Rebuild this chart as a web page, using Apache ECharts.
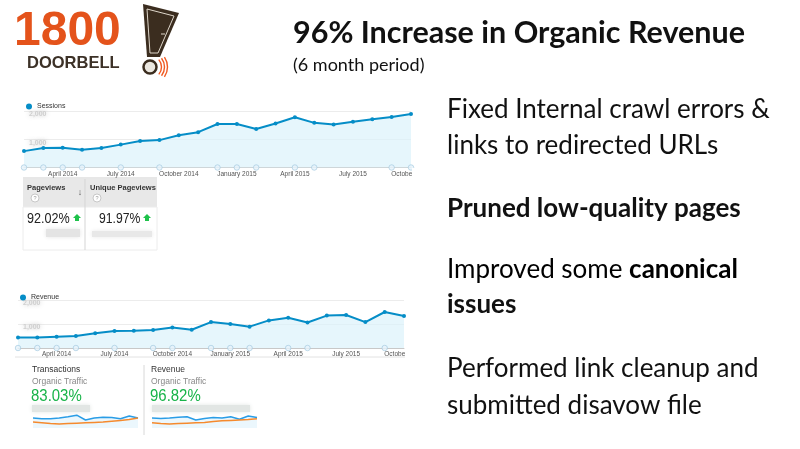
<!DOCTYPE html>
<html>
<head>
<meta charset="utf-8">
<script src="https://cdn.jsdelivr.net/npm/echarts@6/dist/echarts.min.js"></script>
<style>
  html, body { margin: 0; padding: 0; background: #fff; }
  #chart { width: 800px; height: 449px; }
</style>
</head>
<body>
<div id="chart"></div>
<script>
// months shown on both GA charts (Feb 2014 .. Oct 2015)
const months = [
  "February 2014", "March 2014", "April 2014", "May 2014", "June 2014", "July 2014",
  "August 2014", "September 2014", "October 2014", "November 2014", "December 2014",
  "January 2015", "February 2015", "March 2015", "April 2015", "May 2015", "June 2015",
  "July 2015", "August 2015", "September 2015", "October 2015"
];
const labelMonths = ["January", "April", "July", "October"];

const sessions = [580, 690, 700, 630, 690, 810, 940, 970, 1140, 1250, 1540,
  1540, 1360, 1560, 1780, 1580, 1520, 1620, 1710, 1790, 1890];
const revenue = [440, 440, 470, 500, 610, 710, 720, 750, 850, 760, 1080,
  1000, 890, 1150, 1260, 1060, 1350, 1375, 1080, 1500, 1330];

// annotation markers on the x axis (month index)
const sessionNotes = [0, 1, 2, 3, 5, 7, 10, 11, 12, 14, 15, 19, 20];
const revenueNotes = [0, 1, 2, 3, 5, 7, 8, 10, 11, 12, 14, 15, 19];

// sparklines under Transactions / Revenue
const sparkX = ["1", "2", "3", "4", "5", "6", "7", "8", "9", "10", "11", "12", "13"];
const transThis = [25, 23, 23, 25, 28, 32, 20, 25, 27, 26, 23, 30, 25];
const transPrev = [15, 13, 11, 10, 11, 12, 13, 14, 15, 17, 19, 21, 25];
const revThis = [25, 24, 25, 27, 28, 20, 24, 26, 25, 28, 22, 30, 26];
const revPrev = [13, 11, 10, 11, 12, 13, 14, 16, 18, 19, 20, 21, 23];

const blue = "#058dc7";
const gaFont = "Liberation Sans, Arial, sans-serif";
const slideFont = "Lato, sans-serif";

const chart = echarts.init(document.getElementById("chart"));

// 主图x轴
function monthAxis(gridIndex) {
  return {
    type: "category",
    gridIndex: gridIndex,
    data: months,
    boundaryGap: false,
    axisLine: { lineStyle: { color: "#c8c8c8", width: 1 } },
    axisTick: { show: false },
    axisLabel: {
      interval: (i, v) => labelMonths.indexOf(v.split(" ")[0]) >= 0,
      fontSize: 6.5,
      color: "#555",
      fontFamily: gaFont,
      margin: 3
    }
  };
}

// 数值轴，标签模糊处理
function valueAxis(gridIndex) {
  return {
    type: "value",
    gridIndex: gridIndex,
    min: 0,
    max: 2000,
    interval: 1000,
    splitLine: { lineStyle: { color: "#ececec" } },
    axisLine: { show: false },
    axisTick: { show: false },
    axisLabel: {
      inside: true,
      verticalAlign: "top",
      margin: 5,
      fontSize: 7,
      fontWeight: "bold",
      color: "#cfcfcf",
      textShadowColor: "#bdbdbd",
      textShadowBlur: 5,
      formatter: v => (v === 0 ? "" : v.toLocaleString("en-US"))
    }
  };
}

function mainLine(name, data, idx) {
  return {
    name: name,
    type: "line",
    xAxisIndex: idx,
    yAxisIndex: idx,
    data: data,
    symbol: "circle",
    symbolSize: 4,
    lineStyle: { color: blue, width: 2 },
    itemStyle: { color: blue },
    areaStyle: { color: "#dbf2fb" },
    z: 3
  };
}

function notes(list, idx) {
  return {
    type: "scatter",
    xAxisIndex: idx,
    yAxisIndex: idx,
    data: list.map(i => [i, 0]),
    symbol: "circle",
    symbolSize: 5.5,
    itemStyle: { color: "#e6f3fa", borderColor: "#9fc6de", borderWidth: 0.8 },
    z: 4,
    silent: true
  };
}

function spark(data, idx, color, area) {
  const s = {
    type: "line",
    xAxisIndex: idx,
    yAxisIndex: idx,
    data: data,
    showSymbol: false,
    lineStyle: { color: color, width: 1.5 }
  };
  if (area) s.areaStyle = { color: "#e2f3fc" };
  return s;
}

function sparkAxes(idx) {
  return {
    x: { type: "category", gridIndex: idx, data: sparkX, boundaryGap: false, show: false },
    y: { type: "value", gridIndex: idx, min: 0, max: 35, show: false }
  };
}

const sp2 = sparkAxes(2);
const sp3 = sparkAxes(3);

const txt = (x, y, text, size, extra, sx) => ({
  type: "text",
  x: x,
  y: y,
  scaleX: sx || 1,
  style: Object.assign({
    text: text,
    fontSize: size,
    fontFamily: slideFont,
    fill: "#111",
    verticalAlign: "middle"
  }, extra || {})
});

const gaTxt = (x, y, text, size, extra, sx) =>
  txt(x, y, text, size, Object.assign({ fontFamily: gaFont, fill: "#333" }, extra || {}), sx);

const blurBox = (x, y, w, h, color) => ({
  type: "rect",
  shape: { x: x, y: y, width: w, height: h },
  style: { fill: color || "#e6e6e6", shadowBlur: 4, shadowColor: color || "#e0e0e0" }
});

const upArrow = (x, y) => ({
  type: "polygon",
  shape: { points: [[x, y - 4], [x + 4, y], [x + 2, y], [x + 2, y + 3], [x - 2, y + 3], [x - 2, y], [x - 4, y]] },
  style: { fill: "#1ec24b" }
});

const graphics = [
  // logo
  txt(14, 32, "1800", 48, { fontFamily: gaFont, fontWeight: "bold", fill: "#e4531b" }),
  txt(27, 63, "DOORBELL", 16.5, { fontFamily: gaFont, fontWeight: "bold", fill: "#3c3127" }),
  { type: "polygon", shape: { points: [[143, 4], [179, 13], [160, 57], [147, 57]] },
    style: { fill: "#3b2d1f" } },
  { type: "polyline", shape: { points: [[147, 9], [174, 16], [158, 53], [150, 53], [147, 9]] },
    style: { stroke: "#ded6ca", lineWidth: 1, fill: null } },
  { type: "line", shape: { x1: 161, y1: 34, x2: 165, y2: 34 },
    style: { stroke: "#ded6ca", lineWidth: 1 } },
  { type: "circle", shape: { cx: 150, cy: 67, r: 6.5 },
    style: { fill: "#ebe7df", stroke: "#3b2d1f", lineWidth: 2.5 } },
  { type: "arc", shape: { cx: 150, cy: 67, r: 11.5, startAngle: -0.7, endAngle: 0.7 },
    style: { stroke: "#f05a22", lineWidth: 1.4, fill: null } },
  { type: "arc", shape: { cx: 150, cy: 67, r: 14.5, startAngle: -0.65, endAngle: 0.65 },
    style: { stroke: "#f05a22", lineWidth: 1.4, fill: null } },
  { type: "arc", shape: { cx: 150, cy: 67, r: 17.5, startAngle: -0.6, endAngle: 0.6 },
    style: { stroke: "#f05a22", lineWidth: 1.4, fill: null } },

  // title
  txt(293, 33, "96% Increase in Organic Revenue", 30.5, { fontWeight: "bold" }),
  txt(293, 65, "(6 month period)", 18),

  // right hand notes
  txt(447, 110, "Fixed Internal crawl errors &", 26),
  txt(447, 146, "links to redirected URLs", 26),
  txt(447, 209, "Pruned low-quality pages", 26, { fontWeight: "bold" }),
  {
    type: "text", x: 447, y: 270,
    style: {
      text: "{n|Improved some }{b|canonical}",
      verticalAlign: "middle",
      rich: {
        n: { fontSize: 26, fontFamily: slideFont, color: "#111" },
        b: { fontSize: 26, fontFamily: slideFont, color: "#111", fontWeight: "bold" }
      }
    }
  },
  txt(447, 305, "issues", 26, { fontWeight: "bold" }),
  txt(447, 369, "Performed link cleanup and", 26),
  txt(447, 406, "submitted disavow file", 26),

  // crop the last axis labels like the screenshot edge
  { type: "rect", z: 100, shape: { x: 412, y: 168, width: 30, height: 12 }, style: { fill: "#fff" } },
  { type: "rect", z: 100, shape: { x: 405, y: 348, width: 30, height: 12 }, style: { fill: "#fff" } },

  // pageviews table
  { type: "line", shape: { x1: 23, y1: 178, x2: 157, y2: 178 }, style: { stroke: "#cfcfcf", lineWidth: 1 } },
  { type: "rect", shape: { x: 23, y: 179, width: 134, height: 28 }, style: { fill: "#e8e8e8" } },
  { type: "rect", shape: { x: 23, y: 207, width: 134, height: 43 }, style: { fill: "#fff", stroke: "#ececec" } },
  { type: "line", shape: { x1: 85, y1: 179, x2: 85, y2: 250 }, style: { stroke: "#d5d5d5", lineWidth: 1 } },
  gaTxt(27, 188, "Pageviews", 7.5, { fontWeight: "bold" }),
  gaTxt(90, 188, "Unique Pageviews", 7.5, { fontWeight: "bold" }),
  { type: "circle", shape: { cx: 35, cy: 198, r: 4 }, style: { fill: "#fff", stroke: "#bbb", lineWidth: 0.8 } },
  { type: "circle", shape: { cx: 97, cy: 198, r: 4 }, style: { fill: "#fff", stroke: "#bbb", lineWidth: 0.8 } },
  gaTxt(35, 198, "?", 5.5, { fill: "#999", align: "center" }),
  gaTxt(97, 198, "?", 5.5, { fill: "#999", align: "center" }),
  gaTxt(80, 193, "↓", 9, { fill: "#555", align: "center" }),
  gaTxt(27, 219, "92.02%", 14, { fill: "#222" }, 0.9),
  gaTxt(99, 219, "91.97%", 14, { fill: "#222" }, 0.87),
  upArrow(77, 218),
  upArrow(147, 218),
  blurBox(46, 229, 34, 8, "#e4e4e4"),
  blurBox(92, 231, 60, 6, "#e8e8e8"),

  // bottom of revenue chart
  { type: "line", shape: { x1: 15, y1: 357, x2: 405, y2: 357 }, style: { stroke: "#e2e2e2", lineWidth: 1 } },

  // transactions / revenue scorecards
  gaTxt(32, 370, "Transactions", 8.5),
  gaTxt(32, 382, "Organic Traffic", 8.5, { fill: "#888" }),
  gaTxt(31, 396, "83.03%", 17, { fill: "#17b348" }, 0.88),
  blurBox(32, 405, 58, 7, "#e2e6e4"),
  { type: "line", shape: { x1: 144, y1: 365, x2: 144, y2: 435 }, style: { stroke: "#d8d8d8", lineWidth: 1 } },
  gaTxt(151, 370, "Revenue", 8.5),
  gaTxt(151, 382, "Organic Traffic", 8.5, { fill: "#888" }),
  gaTxt(150, 396, "96.82%", 17, { fill: "#17b348" }, 0.88),
  blurBox(152, 405, 98, 7, "#e2e6e4")
];

const option = {
  animation: false,
  backgroundColor: "#fff",
  legend: [
    {
      data: ["Sessions"], left: 21, top: 98, icon: "circle", itemWidth: 6, itemHeight: 6, itemGap: 4,
      textStyle: { fontSize: 7, color: "#333", fontFamily: gaFont }
    },
    {
      data: ["Revenue"], left: 15, top: 289, icon: "circle", itemWidth: 6, itemHeight: 6, itemGap: 4,
      textStyle: { fontSize: 7, color: "#333", fontFamily: gaFont }
    }
  ],
  grid: [
    { left: 24, top: 111, width: 387, height: 56.5 },
    { left: 18, top: 300, width: 386, height: 48 },
    { left: 33, top: 414, width: 105, height: 14 },
    { left: 152, top: 414, width: 105, height: 14 }
  ],
  xAxis: [monthAxis(0), monthAxis(1), sp2.x, sp3.x],
  yAxis: [valueAxis(0), valueAxis(1), sp2.y, sp3.y],
  series: [
    mainLine("Sessions", sessions, 0),
    notes(sessionNotes, 0),
    mainLine("Revenue", revenue, 1),
    notes(revenueNotes, 1),
    spark(transThis, 2, "#2a9de6", true),
    spark(transPrev, 2, "#f58a2e", false),
    spark(revThis, 3, "#2a9de6", true),
    spark(revPrev, 3, "#f58a2e", false)
  ],
  graphic: graphics
};

chart.setOption(option);
</script>
</body>
</html>
